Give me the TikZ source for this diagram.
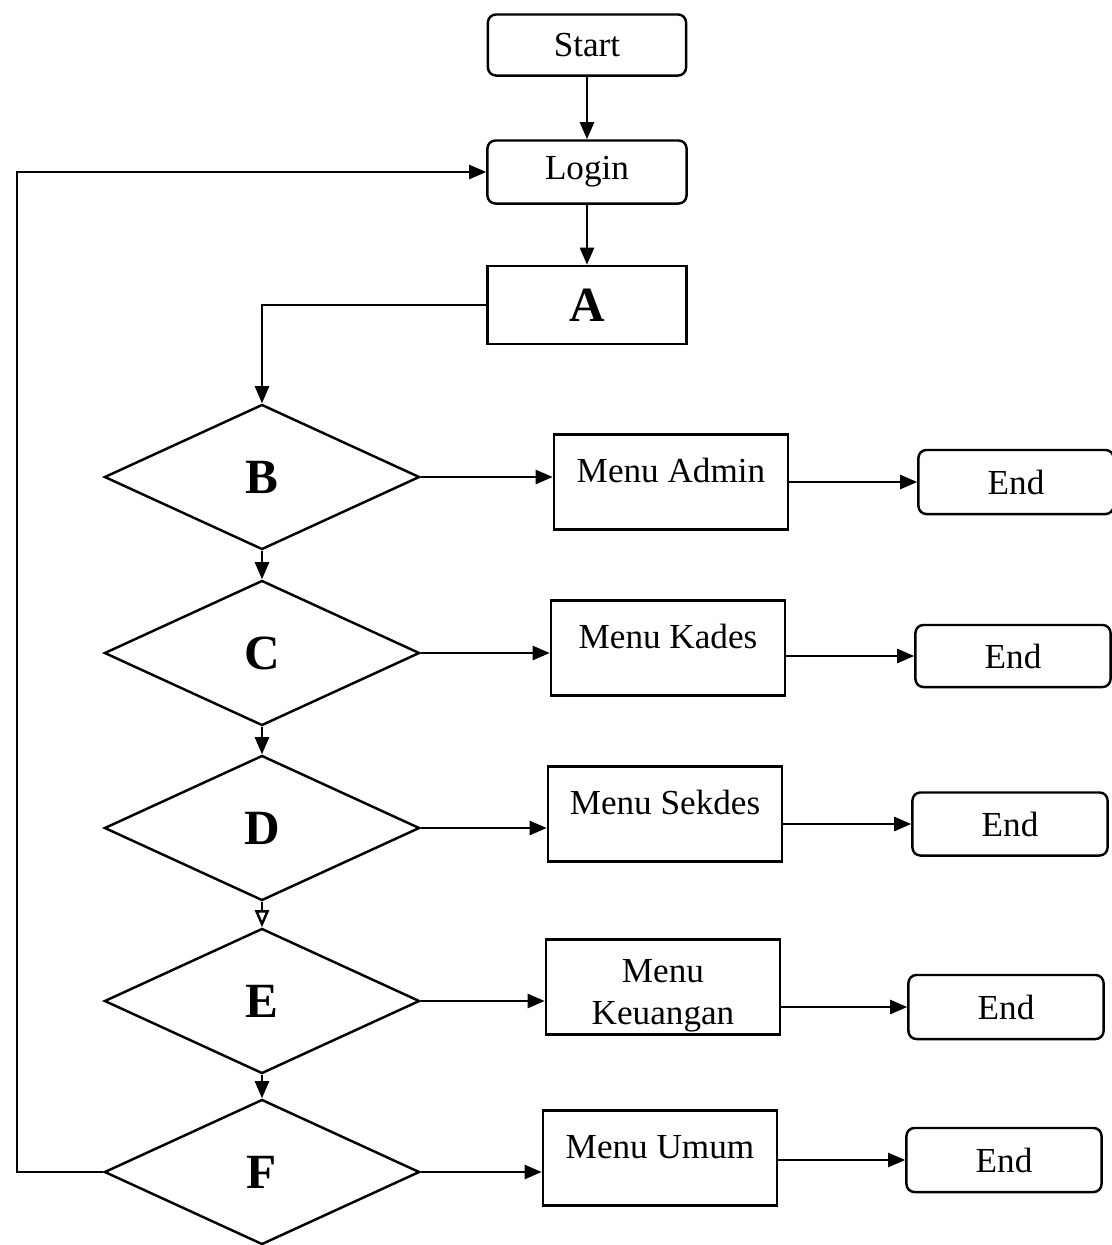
\documentclass[tikz,border=0pt]{standalone}
\usepackage{fontspec}
\setmainfont{Liberation Serif}
\usetikzlibrary{shapes.geometric,arrows.meta}

\begin{document}
\begin{tikzpicture}[x=0.01cm, y=-0.01cm, line width=0.7pt,
>={Triangle[length=0.17cm,width=0.14cm]},
% common options for the rounded terminals:
term/.style = {draw, rounded corners=0.08cm, align=center, inner sep=0,
            font=\fontsize{10}{12}\selectfont},
% common options for the menu boxes:
menu/.style = {draw, align=center, minimum width=2.34cm, minimum height=0.95cm,
            inner xsep=0, inner ysep=0.1cm, text height=0.375cm, text depth=0.375cm,
            font=\fontsize{10}{12}\selectfont},
% common options for the decisions:
cond/.style = {diamond, draw, minimum width=3.15cm, minimum height=1.45cm,
            inner sep=0, font=\fontsize{14}{16}\selectfont\bfseries}]
\useasboundingbox (0,0) rectangle (1111,1245);
\node[term, minimum width=1.98cm, minimum height=0.61cm] (start) at (587,45) {Start};
\node[term, minimum width=1.99cm, minimum height=0.63cm] (login) at (587,172) {Login};
\node[draw, minimum width=1.99cm, minimum height=0.78cm, inner sep=0,
      font=\fontsize{14}{16}\selectfont\bfseries] (a) at (587,305) {A};
\node[cond] (b) at (262,477) {B};
\node[cond] (c) at (262,653) {C};
\node[cond] (d) at (262,828) {D};
\node[cond] (e) at (262,1001) {E};
\node[cond] (f) at (262,1172) {F};
\node[menu] (madmin) at (671,482) {Menu Admin};
\node[menu] (mkades) at (668,648) {Menu Kades};
\node[menu] (msekdes) at (665,814) {Menu Sekdes};
\node[menu, text height=0.75cm, text depth=0cm] (mkeu) at (663,987) {Menu\\Keuangan};
\node[menu] (mumum) at (660,1158) {Menu Umum};
\node[term, minimum width=1.95cm, minimum height=0.64cm] (eadmin) at (1016,482) {End};
\node[term, minimum width=1.95cm, minimum height=0.62cm] (ekades) at (1013,656) {End};
\node[term, minimum width=1.95cm, minimum height=0.63cm] (esekdes) at (1010,824) {End};
\node[term, minimum width=1.95cm, minimum height=0.64cm] (ekeu) at (1006,1007) {End};
\node[term, minimum width=1.95cm, minimum height=0.64cm] (eumum) at (1004,1160) {End};
% main line
\draw[->] (start) -- (login);
\draw[->] (login) -- (a);
\draw[->] (a.west) -| (b.north);
\draw[->] (b) -- (c);
\draw[->] (c) -- (d);
\draw[-{Triangle[open,length=0.17cm,width=0.14cm]}] (d) -- (e);
\draw[->] (e) -- (f);
% back to login
\draw[->] (f.west) -- ++(-86,0) |- (login.west);
% menus
\draw[->] (b.east) -- (b.east -| madmin.west);
\draw[->] (c.east) -- (c.east -| mkades.west);
\draw[->] (d.east) -- (d.east -| msekdes.west);
\draw[->] (e.east) -- (e.east -| mkeu.west);
\draw[->] (f.east) -- (f.east -| mumum.west);
\draw[->] (madmin.east |- eadmin.west) -- (eadmin.west);
\draw[->] (mkades.east |- ekades.west) -- (ekades.west);
\draw[->] (msekdes.east |- esekdes.west) -- (esekdes.west);
\draw[->] (mkeu.east |- ekeu.west) -- (ekeu.west);
\draw[->] (mumum.east |- eumum.west) -- (eumum.west);
\end{tikzpicture}
\end{document}
